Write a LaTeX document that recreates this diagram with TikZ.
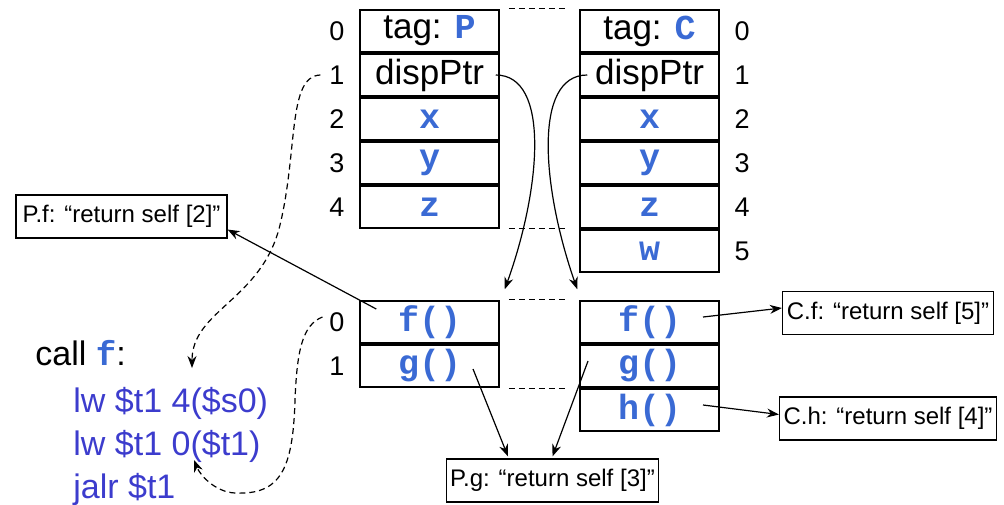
\documentclass[tikz,border=0pt]{standalone}
\usepackage{fontspec}
\setmainfont{Liberation Sans}
\setmonofont{Liberation Mono}
\usepackage{tikz}
\usepackage{xcolor}
\usetikzlibrary{calc}
\usetikzlibrary{positioning}
\usetikzlibrary{arrows.meta}

\definecolor{idblue}{RGB}{58,106,212}
\definecolor{asmblue}{RGB}{60,60,205}
\newcommand{\ident}[1]{{\color{idblue}\ttfamily\bfseries #1}}

\begin{document}
\begin{tikzpicture}[x=0.5pt,y=-0.5pt,
  cell/.style={draw,line width=0.75pt,minimum width=69.5pt,minimum height=21pt,inner sep=0pt,font=\fontsize{17.5}{20}\selectfont},
  idx/.style={font=\fontsize{13.5}{15}\selectfont},
  msgbox/.style={draw,line width=0.6pt,minimum width=105.5pt,minimum height=21.5pt,inner sep=2pt,font=\fontsize{12}{14}\selectfont},
  asm/.style={anchor=base west,inner sep=0pt,text=asmblue,font=\fontsize{17}{20}\selectfont},
  ptr/.style={-{Stealth[length=6pt,width=4.5pt]},line width=0.6pt},
  gap/.style={dash pattern=on 3pt off 2pt,line width=0.6pt}]
\useasboundingbox (0,0) rectangle (1004,504);

% the two objects
\foreach \i/\txt in {0/{tag: \ident{P}},1/dispPtr,2/\ident{x},3/\ident{y},4/\ident{z}}
{
	\node[cell] (p\i) at (429.5,{31+44*\i}) {\txt};
	\node[idx] (pi\i) at (337,{31+44*\i}) {\i};
}
\foreach \i/\txt in {0/{tag: \ident{C}},1/dispPtr,2/\ident{x},3/\ident{y},4/\ident{z},5/\ident{w}}
{
	\node[cell] (c\i) at (649.5,{31+44*\i}) {\txt};
	\node[idx] (ci\i) at (742,{31+44*\i}) {\i};
}

% dispatch tables
\foreach \i/\m in {0/f,1/g}
{
	\node[cell] (pv\i) at (429.5,{322+44*\i}) {\ident{\m()}};
	\node[idx] (pvi\i) at (337,{322+44*\i}) {\i};
}
\foreach \i/\m in {0/f,1/g,2/h}
{
	\node[cell] (cv\i) at (649.5,{322+44*\i}) {\ident{\m()}};
}

\draw[gap] ($(p0.north east)+(9,-1)$) -- ($(c0.north west)+(-13,-1)$);
\draw[gap] ($(p4.south east)+(9,0)$) -- ($(c4.south west)+(-13,0)$);
\draw[gap] ($(pv0.north east)+(9,-1)$) -- ($(cv0.north west)+(-13,-1)$);
\draw[gap] ($(pv1.south east)+(9,1)$) -- ($(cv1.south west)+(-13,1)$);

\node[msgbox] (pfb) at (121.5,216.5) {P.f: ``return self [2]''};
\node[msgbox] (pgb) at (552.5,480.5) {P.g: ``return self [3]''};
\node[msgbox] (cfb) at (888,313) {C.f: ``return self [5]''};
\node[msgbox] (chb) at (888,418.5) {C.h: ``return self [4]''};

% the call site
\node[anchor=base west,inner sep=0pt,font=\fontsize{17}{20}\selectfont] (call) at (35,365) {call \ident{f}:};
\node[asm] (asm1) at (73,412) {lw \$t1 4(\$s0)};
\node[asm] (asm2) at (73,455) {lw \$t1 0(\$t1)};
\node[asm] (asm3) at (73,498) {jalr \$t1};
\coordinate (fld) at (192,368);
\coordinate (mth) at (194,460);

\draw[ptr] ($(p1.east)+(-4,0)$) .. controls +(55,0) and +(36,-100) .. ($(pv0.north east)+(5,-11)$);
\draw[ptr] ($(c1.west)+(8,0)$) .. controls +(-55,0) and +(-35,-100) .. ($(cv0.north west)+(-2,-11)$);
\draw[ptr,gap] ($(pi1.west)+(-2,0)$) .. controls +(-33,1) and +(18,-75) .. (280,225)
	.. controls +(-18,75) and +(0,-58) .. (fld);
\draw[ptr,gap] ($(pvi0.west)+(0,-5)$) .. controls +(-20,8) and +(2,-50) .. (295,400)
	.. controls +(-2,70) and +(45,2) .. (235,493)
	.. controls +(-20,-1) and +(6,15) .. (mth);

\draw[ptr] ($(pv0.west)+(17,-13)$) -- (pfb.-7);
\draw[ptr] ($(pv1.center)+(43.5,3)$) -- ($(pgb.north)+(-44.5,-2)$);
\draw[ptr] ($(cv1.center)+(-61.5,-5)$) -- ($(pgb.north)+(0,-2)$);
\draw[ptr] ($(cv0.center)+(53.5,-5)$) -- ($(cfb.west)+(0,-5)$);
\draw[ptr] ($(cv2.center)+(53.5,-5)$) -- ($(chb.west)+(0,-4)$);
\end{tikzpicture}
\end{document}
